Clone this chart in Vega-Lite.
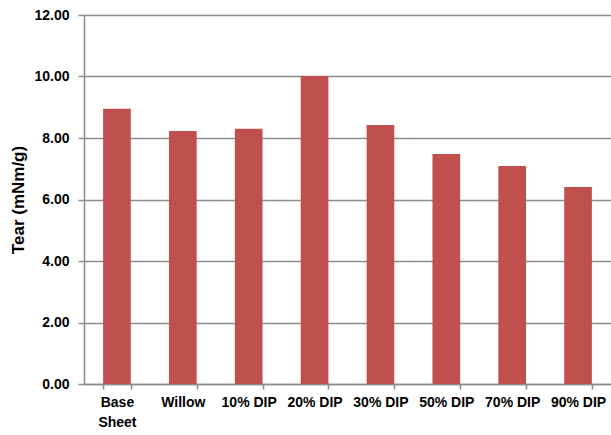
{
  "$schema": "https://vega.github.io/schema/vega-lite/v6.json",
  "width": 527,
  "height": 369,
  "autosize": "none",
  "padding": {"left": 84, "top": 15, "right": 0, "bottom": 51},
  "background": "white",
  "data": {
    "values": [
      {"sample": "Base Sheet", "tear": 8.95},
      {"sample": "Willow", "tear": 8.23},
      {"sample": "10% DIP", "tear": 8.3},
      {"sample": "20% DIP", "tear": 10.02},
      {"sample": "30% DIP", "tear": 8.42},
      {"sample": "50% DIP", "tear": 7.48},
      {"sample": "70% DIP", "tear": 7.09},
      {"sample": "90% DIP", "tear": 6.41}
    ]
  },
  "config": {
    "view": {"stroke": null},
    "font": "Liberation Sans"
  },
  "mark": {"type": "bar", "color": "#C0504D"},
  "encoding": {
    "x": {
      "field": "sample",
      "type": "nominal",
      "sort": null,
      "scale": {"paddingInner": 0.58, "paddingOuter": 0.29},
      "axis": {
        "title": null,
        "labelAngle": 0,
        "labelExpr": "datum.label == 'Base Sheet' ? ['Base', 'Sheet'] : datum.label",
        "labelFont": "Liberation Sans",
        "labelFontWeight": "bold",
        "labelFontSize": 14,
        "labelColor": "black",
        "labelPadding": 6,
        "labelLineHeight": 20,
        "tickBand": "extent",
        "tickSize": 5,
        "tickColor": "#8c8c8c",
        "tickWidth": 1.5,
        "domainColor": "#8c8c8c",
        "domainWidth": 1.5
      }
    },
    "y": {
      "field": "tear",
      "type": "quantitative",
      "scale": {"domain": [0, 12]},
      "axis": {
        "title": "Tear (mNm/g)",
        "titleFont": "Liberation Sans",
        "titleFontSize": 17,
        "titleFontWeight": "bold",
        "titleColor": "black",
        "titlePadding": 6,
        "values": [0, 2, 4, 6, 8, 10, 12],
        "format": ".2f",
        "labelFont": "Liberation Sans",
        "labelFontWeight": "bold",
        "labelFontSize": 14,
        "labelColor": "black",
        "labelPadding": 9,
        "tickSize": 6,
        "tickColor": "#8c8c8c",
        "tickWidth": 1.5,
        "grid": true,
        "gridColor": "#8c8c8c",
        "gridWidth": 1.5,
        "domainColor": "#8c8c8c",
        "domainWidth": 1.5
      }
    }
  }
}
